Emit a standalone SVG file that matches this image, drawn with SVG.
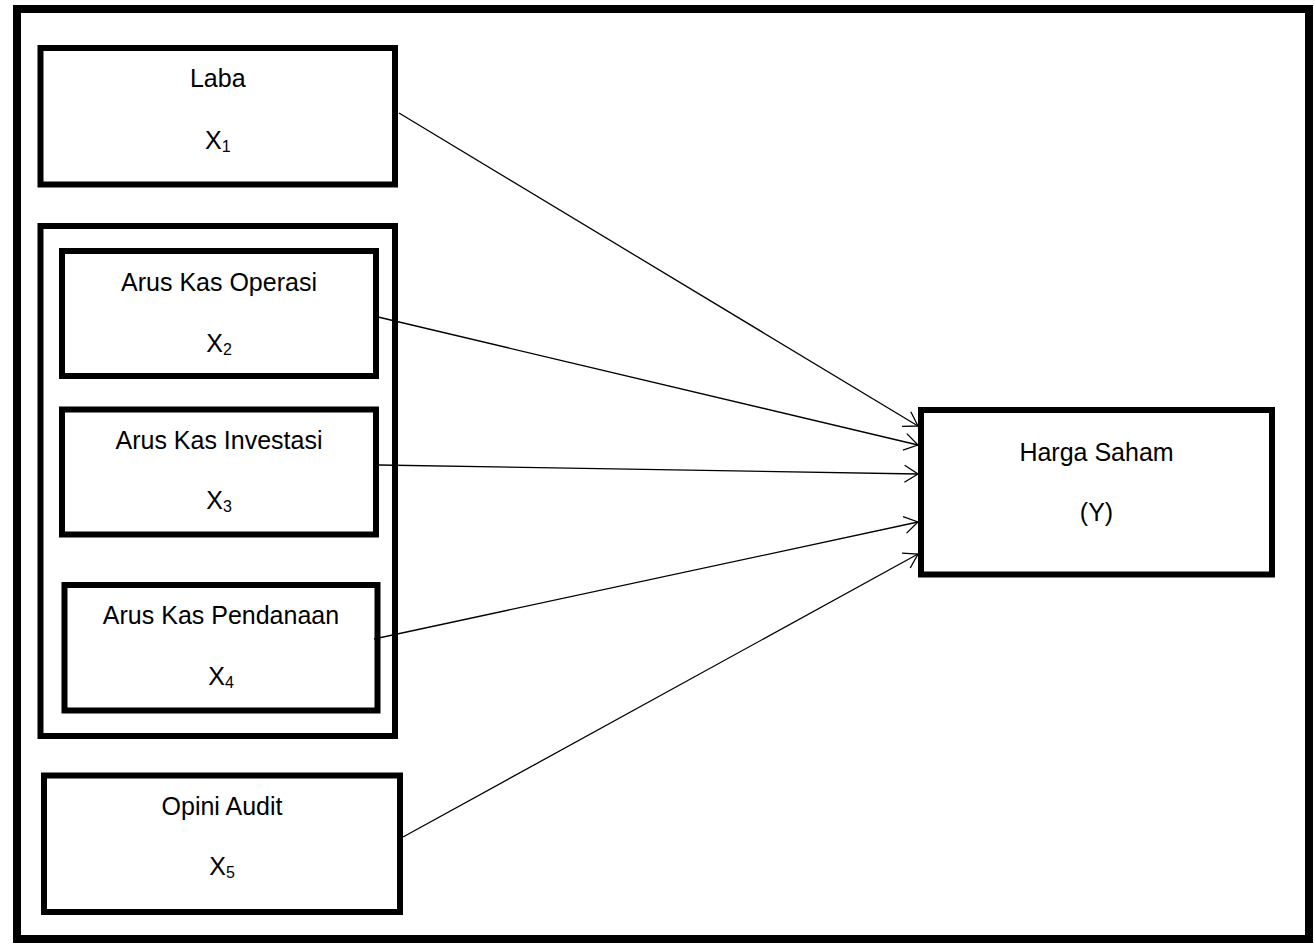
<svg xmlns="http://www.w3.org/2000/svg" width="1314" height="945" viewBox="0 0 1314 945">
<style>
.frame{fill:#fff;stroke:#000;stroke-width:8}
.box{fill:#fff;stroke:#000;stroke-width:6}
.lbl{font-family:"Liberation Sans",Arial,sans-serif;font-size:25px;fill:#000;text-anchor:middle}
.sub{font-size:16px}
.conn{stroke:#000;stroke-width:1.3;fill:none;marker-end:url(#arr)}
</style>
<defs>
<marker id="arr" markerUnits="userSpaceOnUse" viewBox="-16 -10 18 20" markerWidth="18" markerHeight="20" refX="0" refY="0" orient="auto" overflow="visible">
<path d="M-13.5,-8.5 L0,0 L-13.5,8.5" fill="none" stroke="#000" stroke-width="1.3"/>
</marker>
</defs>
<rect class="frame" x="17" y="9" width="1292" height="930"/>
<g id="laba">
<rect class="box" x="40.5" y="48" width="354.5" height="136.5"/>
<text class="lbl" x="217.75" y="87">Laba</text>
<text class="lbl" x="217.75" y="149">X<tspan class="sub" dy="3">1</tspan></text>
</g>
<g id="arus-kas-group">
<rect class="box" x="40.5" y="226" width="354.5" height="510"/>
</g>
<g id="x2">
<rect class="box" x="62" y="251" width="314" height="125"/>
<text class="lbl" x="219" y="291">Arus Kas Operasi</text>
<text class="lbl" x="219" y="352">X<tspan class="sub" dy="3">2</tspan></text>
</g>
<g id="x3">
<rect class="box" x="62" y="409.5" width="314" height="125"/>
<text class="lbl" x="219" y="449">Arus Kas Investasi</text>
<text class="lbl" x="219" y="509">X<tspan class="sub" dy="3">3</tspan></text>
</g>
<g id="x4">
<rect class="box" x="64.5" y="585" width="313" height="125.5"/>
<text class="lbl" x="221" y="624">Arus Kas Pendanaan</text>
<text class="lbl" x="221" y="685">X<tspan class="sub" dy="3">4</tspan></text>
</g>
<g id="x5">
<rect class="box" x="44" y="775.5" width="356" height="136.5"/>
<text class="lbl" x="222" y="815">Opini Audit</text>
<text class="lbl" x="222" y="875">X<tspan class="sub" dy="3">5</tspan></text>
</g>
<g id="y">
<rect class="box" x="921" y="410" width="351" height="164.5"/>
<text class="lbl" x="1096.5" y="461">Harga Saham</text>
<text class="lbl" x="1096.5" y="521">(Y)</text>
</g>
<g id="connectors">
<line class="conn" x1="399" y1="113" x2="918" y2="426"/>
<line class="conn" x1="378" y1="317" x2="918" y2="445"/>
<line class="conn" x1="379" y1="465" x2="918" y2="474"/>
<line class="conn" x1="374" y1="639" x2="918" y2="522"/>
<line class="conn" x1="403" y1="837" x2="918" y2="554"/>
</g>
</svg>
